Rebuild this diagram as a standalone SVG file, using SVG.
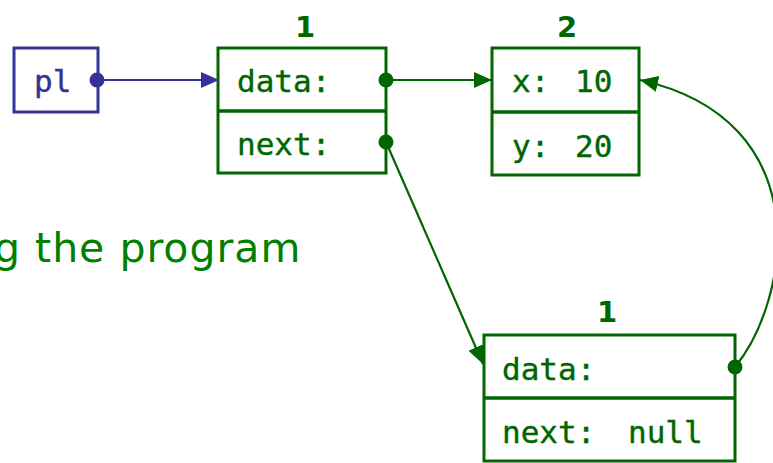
<svg xmlns="http://www.w3.org/2000/svg" width="773" height="463" viewBox="0 0 773 463">
  <style>
    .box { fill: #ffffff; stroke: #006600; stroke-width: 3; }
    .sep { stroke: #006600; stroke-width: 3.5; }
    .field { font-family: "DejaVu Sans Mono", "Liberation Mono", monospace; font-size: 31px; fill: #006600; stroke: #006600; stroke-width: 0.4; }
    .count { font-family: "DejaVu Sans", "Liberation Sans", sans-serif; font-weight: bold; font-size: 29px; fill: #006600; text-anchor: middle; }
    .link { fill: none; stroke: #006600; stroke-width: 2.2; }
    .dot { fill: #006600; }
    .ref { fill: none; stroke: #333399; stroke-width: 2.2; }
  </style>
  <defs>
    <marker id="headGreen" markerUnits="userSpaceOnUse" markerWidth="20" markerHeight="18" refX="18" refY="8" orient="auto">
      <path d="M0,0 L18,8 L0,16 z" fill="#006600"/>
    </marker>
    <marker id="headBlue" markerUnits="userSpaceOnUse" markerWidth="20" markerHeight="18" refX="18" refY="8" orient="auto">
      <path d="M0,0 L18,8 L0,16 z" fill="#333399"/>
    </marker>
  </defs>

  <!-- caption fragment -->
  <text x="-6" y="262" font-family="DejaVu Sans, Verdana, sans-serif" font-size="41" fill="#008000" letter-spacing="1">g the program</text>

  <!-- variable pl -->
  <g id="var-pl">
    <rect x="14" y="48" width="84" height="64" fill="#ffffff" stroke="#333399" stroke-width="3"/>
    <text x="34" y="92" class="field" style="fill:#333399;stroke:#333399">pl</text>
  </g>

  <!-- first list cell -->
  <g id="cell-a">
    <text x="305" y="37" class="count">1</text>
    <rect x="218" y="48" width="168" height="125" class="box"/>
    <line x1="218" y1="111" x2="386" y2="111" class="sep"/>
    <text x="237" y="92" class="field">data:</text>
    <text x="237" y="155" class="field">next:</text>
  </g>

  <!-- point object -->
  <g id="point">
    <text x="567" y="37" class="count">2</text>
    <rect x="492" y="48" width="147" height="127" class="box"/>
    <line x1="492" y1="112" x2="639" y2="112" class="sep"/>
    <text y="92" class="field"><tspan x="512">x:</tspan><tspan x="575">10</tspan></text>
    <text y="157" class="field"><tspan x="512">y:</tspan><tspan x="575">20</tspan></text>
  </g>

  <!-- second list cell -->
  <g id="cell-b">
    <text x="607" y="322" class="count">1</text>
    <rect x="484" y="335" width="251" height="126" class="box"/>
    <line x1="484" y1="398" x2="735" y2="398" class="sep"/>
    <text x="502" y="380" class="field">data:</text>
    <text y="443" class="field"><tspan x="502">next:</tspan><tspan x="628">null</tspan></text>
  </g>

  <!-- references -->
  <g id="connectors">
    <line x1="97" y1="80" x2="219" y2="80" class="ref" marker-end="url(#headBlue)"/>
    <circle cx="97" cy="80" r="7.5" fill="#333399"/>

    <line x1="386" y1="80" x2="492" y2="80" class="link" marker-end="url(#headGreen)"/>
    <circle cx="386" cy="80" r="7.5" class="dot"/>

    <line x1="386" y1="142" x2="483" y2="364" class="link" marker-end="url(#headGreen)"/>
    <circle cx="386" cy="142" r="7.5" class="dot"/>

    <path d="M735,367 C790,300 820,120 640,80" class="link" marker-end="url(#headGreen)"/>
    <circle cx="735" cy="367" r="7.5" class="dot"/>
  </g>
</svg>
